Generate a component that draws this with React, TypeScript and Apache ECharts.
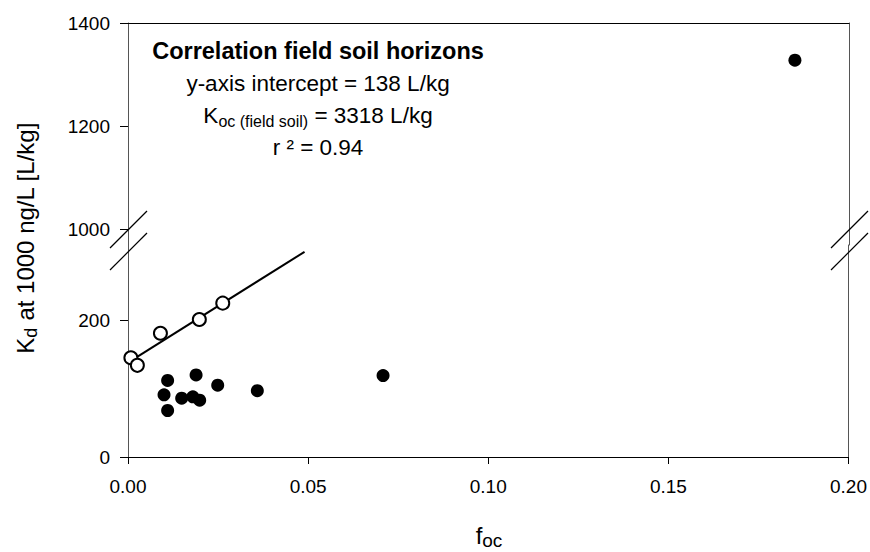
import React, { useEffect, useRef } from "react";
import * as echarts from "echarts";

// Open circles: soil horizons used for the correlation
const openFoc = [0.0008, 0.0026, 0.009, 0.0198, 0.0263];
const openKd = [145, 134, 181, 201, 225];
// Filled circles
const filledFoc = [0.011, 0.010, 0.011, 0.0149, 0.018, 0.0199, 0.0189, 0.0249, 0.0359, 0.0708, 0.185];
const filledKd = [112, 91, 68, 86, 88, 83, 120, 105, 97, 119, 1328];
// Regression line end points
const fitFoc = [0, 0.049];
const fitKd = [138, 300];
// Ticks
const xTicks = [0, 0.05, 0.1, 0.15, 0.2];
const yTicksLow = [0, 200];
const yTicksHigh = [1000, 1200, 1400];

const FONT = '"Liberation Sans", Arial, Helvetica, sans-serif';
const BREAK_LOW = 310; // top of lower segment
const BREAK_HIGH = 970; // bottom of upper segment

export default function App() {
  const ref = useRef<HTMLDivElement>(null);
  useEffect(() => {
    if (!ref.current) return;
    const chart = echarts.init(ref.current, null, { renderer: "svg" });

    const pairs = (xs: number[], ys: number[]) => xs.map((x, i) => [x, ys[i]]);
    const filled = pairs(filledFoc, filledKd);
    const filledLow = filled.filter((p) => p[1] < BREAK_LOW);
    const filledHigh = filled.filter((p) => p[1] >= BREAK_HIGH);

    const left = 128;
    const right = 870 - 849;
    const top = 23;
    const mid = 245;
    const bottom = 457;

    const vLine = { show: true, onZero: false, lineStyle: { color: "#555", width: 1 } };
    const tickFont = { color: "#000", fontSize: 19, fontFamily: FONT };

    const breakLines = (x0: number) => [
      { type: "line", shape: { x1: x0, y1: 248, x2: x0 + 37, y2: 211 }, style: { stroke: "#000", lineWidth: 1.2 }, z: 100 },
      { type: "line", shape: { x1: x0, y1: 270, x2: x0 + 37, y2: 233 }, style: { stroke: "#000", lineWidth: 1.2 }, z: 100 },
    ];

    const cx = 318;

    const option: any = {
      animation: false,
      backgroundColor: "#fff",
      textStyle: { fontFamily: FONT },
      grid: [
        { left, right, top, height: mid - top },
        { left, right, top: mid, height: bottom - mid },
      ],
      xAxis: [
        {
          gridIndex: 0, type: "value", min: 0, max: 0.2, position: "top",
          axisLine: { show: true, onZero: false, lineStyle: { color: "#000", width: 1 } },
          axisTick: { show: false }, axisLabel: { show: false }, splitLine: { show: false },
        },
        {
          gridIndex: 1, type: "value", min: 0, max: 0.2, interval: 0.05, position: "bottom",
          axisLine: { show: true, onZero: false, lineStyle: { color: "#000", width: 1 } },
          axisTick: { show: true, inside: false, length: 7, lineStyle: { color: "#000" }, customValues: xTicks },
          axisLabel: {
            show: true, margin: 20, ...tickFont,
            customValues: xTicks, formatter: (v: number) => v.toFixed(2),
          },
          splitLine: { show: false },
        },
      ],
      yAxis: [
        {
          gridIndex: 0, type: "value", min: BREAK_HIGH, max: 1400, position: "left",
          axisLine: vLine,
          axisTick: { show: true, length: 8, lineStyle: { color: "#000" }, customValues: yTicksHigh },
          axisLabel: { show: true, margin: 18, ...tickFont, customValues: yTicksHigh, formatter: (v: number) => String(v) },
          splitLine: { show: false },
        },
        {
          gridIndex: 0, type: "value", min: BREAK_HIGH, max: 1400, position: "right",
          axisLine: vLine, axisTick: { show: false }, axisLabel: { show: false }, splitLine: { show: false },
        },
        {
          gridIndex: 1, type: "value", min: 0, max: BREAK_LOW, position: "left",
          axisLine: vLine,
          axisTick: { show: true, length: 8, lineStyle: { color: "#000" }, customValues: yTicksLow },
          axisLabel: { show: true, margin: 18, ...tickFont, customValues: yTicksLow, formatter: (v: number) => String(v) },
          splitLine: { show: false },
        },
        {
          gridIndex: 1, type: "value", min: 0, max: BREAK_LOW, position: "right",
          axisLine: vLine, axisTick: { show: false }, axisLabel: { show: false }, splitLine: { show: false },
        },
      ],
      series: [
        {
          type: "line", xAxisIndex: 1, yAxisIndex: 2, data: pairs(fitFoc, fitKd),
          showSymbol: false, symbol: "none", lineStyle: { color: "#000", width: 2 }, z: 2,
        },
        {
          type: "scatter", xAxisIndex: 1, yAxisIndex: 2, data: filledLow,
          symbol: "circle", symbolSize: 13, itemStyle: { color: "#000", opacity: 1 }, z: 3,
        },
        {
          type: "scatter", xAxisIndex: 0, yAxisIndex: 0, data: filledHigh,
          symbol: "circle", symbolSize: 13, itemStyle: { color: "#000", opacity: 1 }, z: 3,
        },
        {
          type: "scatter", xAxisIndex: 1, yAxisIndex: 2, data: pairs(openFoc, openKd),
          symbol: "circle", symbolSize: 13,
          itemStyle: { color: "#fff", borderColor: "#000", borderWidth: 2, opacity: 1 }, z: 4,
        },
      ],
      graphic: [
        ...breakLines(110),
        ...breakLines(831),
        {
          type: "text", x: cx, y: 51,
          style: { text: "Correlation field soil horizons", font: `bold 23.5px ${FONT}`, fill: "#000", textAlign: "center", textVerticalAlign: "middle" },
        },
        {
          type: "text", x: cx, y: 83,
          style: { text: "y-axis intercept = 138 L/kg", font: `22.5px ${FONT}`, fill: "#000", textAlign: "center", textVerticalAlign: "middle" },
        },
        {
          type: "text", x: cx, y: 115,
          style: {
            text: "{m|K}{s|oc (field soil)}{m| = 3318 L/kg}",
            textAlign: "center", textVerticalAlign: "middle", fill: "#000",
            rich: {
              m: { fontSize: 22.5, fontFamily: FONT, lineHeight: 28, verticalAlign: "middle", fill: "#000" },
              s: { fontSize: 16, fontFamily: FONT, lineHeight: 28, verticalAlign: "bottom", padding: [14, 0, 0, 0], fill: "#000" },
            },
          },
        },
        {
          type: "text", x: cx, y: 147,
          style: { text: "r ² = 0.94", font: `22.5px ${FONT}`, fill: "#000", textAlign: "center", textVerticalAlign: "middle" },
        },
        {
          type: "text", x: 25, y: 238, rotation: Math.PI / 2,
          style: {
            text: "{m|K}{s|d}{m| at 1000 ng/L [L/kg]}",
            textAlign: "center", textVerticalAlign: "middle", fill: "#000",
            rich: {
              m: { fontSize: 24, fontFamily: FONT, lineHeight: 30, verticalAlign: "middle", fill: "#000" },
              s: { fontSize: 18, fontFamily: FONT, lineHeight: 30, verticalAlign: "bottom", padding: [13, 0, 0, 0], fill: "#000" },
            },
          },
        },
        {
          type: "text", x: 489, y: 535,
          style: {
            text: "{m|f}{s|oc}",
            textAlign: "center", textVerticalAlign: "middle", fill: "#000",
            rich: {
              m: { fontSize: 24, fontFamily: FONT, lineHeight: 30, verticalAlign: "middle", fill: "#000" },
              s: { fontSize: 19, fontFamily: FONT, lineHeight: 30, verticalAlign: "bottom", padding: [13, 0, 0, 0], fill: "#000" },
            },
          },
        },
      ],
    };
    chart.setOption(option);
    return () => chart.dispose();
  }, []);
  return <div ref={ref} style={{ width: 870, height: 552, position: "absolute", left: 0, top: 0 }} />;
}
